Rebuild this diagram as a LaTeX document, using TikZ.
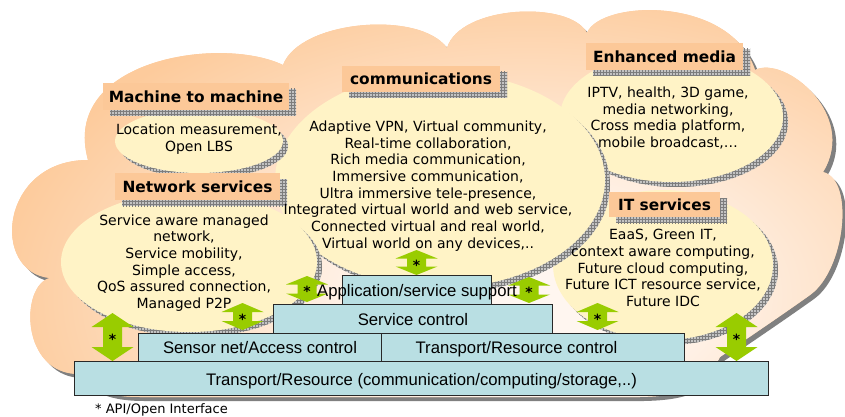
\documentclass[tikz,border=0pt]{standalone}
\usepackage{fontspec}
\newfontfamily\dvs{DejaVu Sans}
\newfontfamily\lsans{Liberation Sans}
\usetikzlibrary{shapes.geometric,shadows,patterns}

\definecolor{cpeach}{RGB}{253,203,156}
\definecolor{clight}{RGB}{255,246,240}
\definecolor{lblfill}{RGB}{252,200,152}
\definecolor{ellfill}{RGB}{255,243,198}
\definecolor{boxblue}{RGB}{185,223,227}
\definecolor{agreen}{RGB}{153,204,0}
\definecolor{shbase}{RGB}{195,195,195}
\definecolor{shline}{RGB}{125,125,125}
\definecolor{cshadow}{RGB}{128,128,128}
\definecolor{boxline}{RGB}{40,40,40}

\pgfdeclareradialshading{cloudshade}{\pgfpoint{0bp}{0bp}}{color(0bp)=(clight); color(6bp)=(clight); color(15bp)=(cpeach!50!clight); color(24bp)=(cpeach); color(50bp)=(cpeach)}

\newcommand\gdarrow[4]{%
  \fill[agreen] ({#1-9.5},{#2+#4}) -- ({#1-21},{#2+#4}) -- (#1,#2) -- ({#1+21},{#2+#4}) -- ({#1+9.5},{#2+#4})
   -- ({#1+9.5},{#3-#4}) -- ({#1+21},{#3-#4}) -- (#1,#3) -- ({#1-21},{#3-#4}) -- ({#1-9.5},{#3-#4}) -- cycle;}

\begin{document}
\begin{tikzpicture}[x=1pt,y=-1pt,
  cloudpath/.style={insert path={(80,374) .. controls (20,375) and (20,285) .. (50,278)
     .. controls (-10,272) and (0,160) .. (88,160)
     .. controls (60,60) and (220,35) .. (283,65)
     .. controls (300,20) and (420,10) .. (447,48)
     .. controls (460,5) and (570,0) .. (587,33)
     .. controls (600,0) and (730,-5) .. (755,70)
     .. controls (785,55) and (858,115) .. (823,172)
     .. controls (855,180) and (845,270) .. (810,295)
     .. controls (782,315) and (745,340) .. (720,357)
     .. controls (705,385) and (690,396) .. (640,397)
     -- (140,397) .. controls (100,397) and (85,385) .. (80,374) -- cycle}},
  ellnode/.style={ellipse, fill=ellfill, inner sep=0pt, outer sep=0pt,
     general shadow={fill=shbase, shadow xshift=5pt, shadow yshift=-5pt},
     general shadow={pattern=grid, pattern color=shline, shadow xshift=5pt, shadow yshift=-5pt}},
  lbl/.style={fill=lblfill, inner sep=0pt, font={\dvs\bfseries\fontsize{15.4}{18}\selectfont},
     general shadow={fill=shbase, shadow xshift=7pt, shadow yshift=-6pt},
     general shadow={pattern=grid, pattern color=shline, shadow xshift=7pt, shadow yshift=-6pt}},
  etext/.style={font={\dvs\fontsize{14}{16.7}\selectfont}, align=center, inner sep=0pt},
  layerbox/.style={draw=boxline, line width=1pt, fill=boxblue, inner sep=0pt},
  ltext/.style={font={\lsans\fontsize{16.7}{20}\selectfont}, inner sep=0pt, text height=12pt, text depth=3.5pt},
  astar/.style={font={\dvs\bfseries\fontsize{14}{14}\selectfont}, inner sep=0pt}
]
\useasboundingbox (0,0) rectangle (845,417);

% cloud
\fill[cshadow, shift={(4,4)}, cloudpath];
\fill[cpeach, cloudpath];
\begin{scope}
  \clip[cloudpath];
  \shade[shading=cloudshade] (530,295) ellipse [x radius=560, y radius=330];
\end{scope}

% ellipses
\node[ellnode, minimum width=223pt, minimum height=130pt] (eEM) at (671.5,117) {};
\node[ellnode, minimum width=220pt, minimum height=150pt] (eIT) at (663,265) {};
\node[ellnode, minimum width=330pt, minimum height=216pt] (eCO) at (440,180) {};
\node[ellnode, minimum width=168pt, minimum height=64pt] (eMM) at (199,141) {};
\node[ellnode, minimum width=256pt, minimum height=140pt] (eNS) at (189,262) {};

% labels
\node[lbl, minimum width=186pt, minimum height=27pt] (lMM) at (196,96.5) {Machine to machine};
\node[lbl, minimum width=158pt, minimum height=26pt] (lCO) at (421,79) {communications};
\node[lbl, minimum width=157pt, minimum height=27pt] (lEM) at (664.5,56.5) {Enhanced media};
\node[lbl, minimum width=165pt, minimum height=27pt] (lNS) at (197.5,186.5) {Network services};
\node[lbl, minimum width=111pt, minimum height=25pt] (lIT) at (664.5,204.5) {IT services};

% green double arrows
\gdarrow{112.5}{313}{361}{14}
\gdarrow{242.5}{303}{330}{9}
\gdarrow{307}{276}{302}{8.5}
\gdarrow{416.5}{250}{275}{8.5}
\gdarrow{529}{277}{303}{8.5}
\gdarrow{597.5}{303}{330}{9}
\gdarrow{736.5}{313}{361}{14}

% layer boxes
\node[layerbox, minimum width=694pt, minimum height=34pt] (bTR) at (421,378) {};
\node[layerbox, minimum width=243pt, minimum height=28pt] (bSN) at (259.5,347) {};
\node[layerbox, minimum width=303pt, minimum height=28pt] (bRC) at (532.5,347) {};
\node[layerbox, minimum width=279pt, minimum height=29pt] (bSC) at (412.5,318.5) {};
\node[layerbox, minimum width=149pt, minimum height=29pt] (bAP) at (416.5,289.5) {};

% ellipse texts
\node[etext] (tMM) at (199,139) {Location measurement,\\Open LBS};
\node[etext] (tCO) at (428,186) {Adaptive VPN, Virtual community,\\Real-time collaboration,\\Rich media communication,\\Immersive communication,\\Ultra immersive tele-presence,\\Integrated virtual world and web service,\\Connected virtual and real world,\\Virtual world on any devices,..};
\node[etext] (tEM) at (668,118) {IPTV, health, 3D game,\\media networking,\\Cross media platform,\\mobile broadcast,…};
\node[etext] (tNS) at (184,263) {Service aware managed\\network,\\Service mobility,\\Simple access,\\QoS assured connection,\\Managed P2P};
\node[etext] (tIT) at (663,268) {EaaS, Green IT,\\context aware computing,\\Future cloud computing,\\Future ICT resource service,\\Future IDC};

% layer texts
\node[ltext] (xTR) at (421.5,381.5) {Transport/Resource (communication/computing/storage,..)};
\node[ltext] (xSN) at (260,349.5) {Sensor net/Access control};
\node[ltext] (xRC) at (516.5,349.5) {Transport/Resource control};
\node[ltext] (xSC) at (413,321.5) {Service control};
\node[ltext] (xAP) at (417,292.5) {Application/service support};

% stars
\node[astar] (s1) at (112.5,339.7) {*};
\node[astar] (s2) at (242.5,319.2) {*};
\node[astar] (s3) at (307,291.7) {*};
\node[astar] (s4) at (416.5,265.2) {*};
\node[astar] (s5) at (529,292.7) {*};
\node[astar] (s6) at (597.5,319.2) {*};
\node[astar] (s7) at (736.5,339.7) {*};

% footnote
\node[font={\dvs\fontsize{13}{15}\selectfont}, anchor=base west, inner sep=0pt] (fn) at (95,413.5) {* API/Open Interface};
\end{tikzpicture}
\end{document}
